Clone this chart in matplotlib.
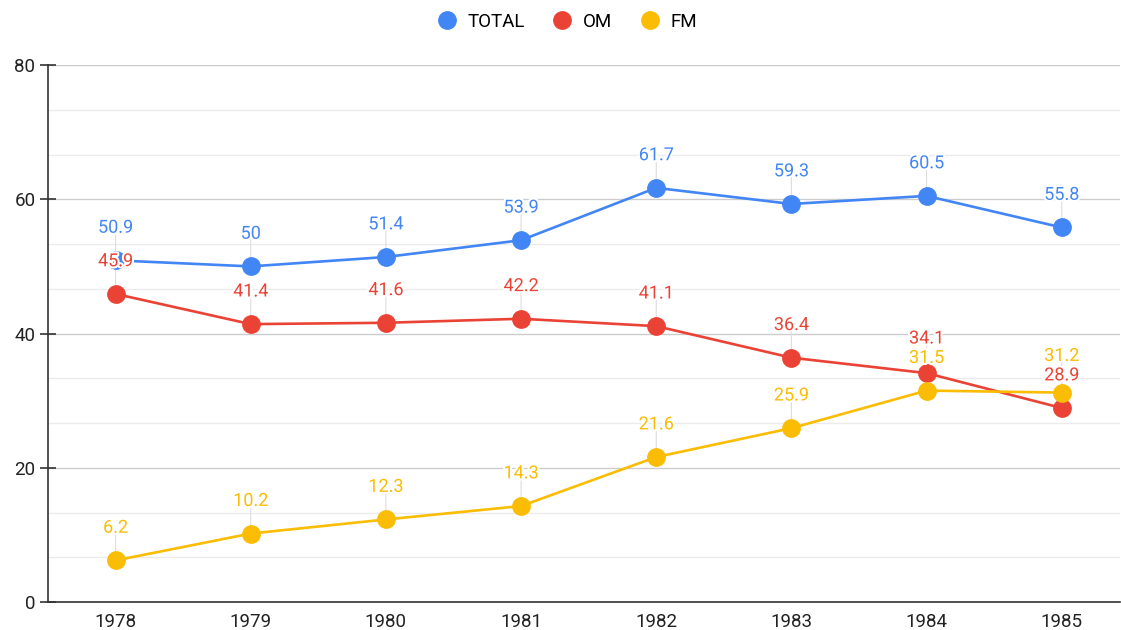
import numpy as np
import matplotlib.pyplot as plt
import matplotlib.patheffects as pe
from matplotlib.ticker import MultipleLocator

plt.rcParams['font.family'] = ['Roboto', 'DejaVu Sans']

years = ['1978', '1979', '1980', '1981', '1982', '1983', '1984', '1985']
total = [50.9, 50, 51.4, 53.9, 61.7, 59.3, 60.5, 55.8]
om = [45.9, 41.4, 41.6, 42.2, 41.1, 36.4, 34.1, 28.9]
fm = [6.2, 10.2, 12.3, 14.3, 21.6, 25.9, 31.5, 31.2]

series = [('TOTAL', total, '#4285F4'), ('OM', om, '#EA4335'), ('FM', fm, '#FBBC04')]

fig = plt.figure(figsize=(11.21, 6.3), dpi=100)
ax = fig.add_axes([0.0428, 0.0444, 0.9562, 0.8524])

x = np.arange(len(years))
for name, vals, col in series:
    ax.plot(x, vals, color=col, lw=1.9, marker='o', ms=12.5, label=name, zorder=3)

# label offsets in points; push apart labels at the same x that would collide
pt_per_unit = 0.8524 * 6.3 * 72 / 80
base = 23.5
min_gap = 14
for xi in x:
    labs = sorted([(vals[xi], i) for i, (_, vals, _) in enumerate(series)])
    prev = None
    offs = {}
    for v, i in labs:
        pos = v * pt_per_unit + base
        if prev is not None and pos - prev < min_gap:
            pos = prev + min_gap
        offs[i] = pos - v * pt_per_unit
        prev = pos
    for i, (name, vals, col) in enumerate(series):
        v = vals[xi]
        ax.annotate('', xy=(xi, v), xytext=(0, 22), textcoords='offset points',
                    arrowprops=dict(arrowstyle='-', color='#dddddd', lw=0.8,
                                    shrinkA=0, shrinkB=0), zorder=1)
        ax.annotate(str(v), xy=(xi, v), xytext=(0, offs[i]), textcoords='offset points',
                    ha='center', va='center', color=col, fontsize=13, zorder=5,
                    path_effects=[pe.withStroke(linewidth=3, foreground='white')])

ax.set_xlim(-0.5, 7.43)
ax.set_ylim(0, 80)
ax.yaxis.set_major_locator(MultipleLocator(20))
ax.yaxis.set_minor_locator(MultipleLocator(20 / 3))
ax.grid(which='major', axis='y', color='#cccccc', lw=1)
ax.grid(which='minor', axis='y', color='#ebebeb', lw=1)
ax.set_axisbelow(True)

ax.set_xticks(x)
ax.set_xticklabels(years)
ax.tick_params(axis='x', length=0, pad=8, labelsize=13.5, labelcolor='#222222')
ax.tick_params(axis='y', which='major', direction='inout', length=12, width=1.2,
               color='#333333', labelsize=13.5, labelcolor='#222222', pad=3)
ax.tick_params(axis='y', which='minor', length=0)

for s in ['top', 'right']:
    ax.spines[s].set_visible(False)
ax.spines['left'].set_color('#333333')
ax.spines['left'].set_linewidth(1.2)
ax.spines['bottom'].set_color('#333333')
ax.spines['bottom'].set_linewidth(1.2)

handles = [plt.Line2D([], [], ls='', marker='o', ms=12.5, color=c) for _, _, c in series]
fig.legend(handles, [n for n, _, _ in series], loc='center', bbox_to_anchor=(0.505, 0.965),
           ncol=3, frameon=False, fontsize=13.5, handletextpad=0.5, columnspacing=1.4,
           handlelength=1.2)

fig.savefig('out.png', dpi=100)
